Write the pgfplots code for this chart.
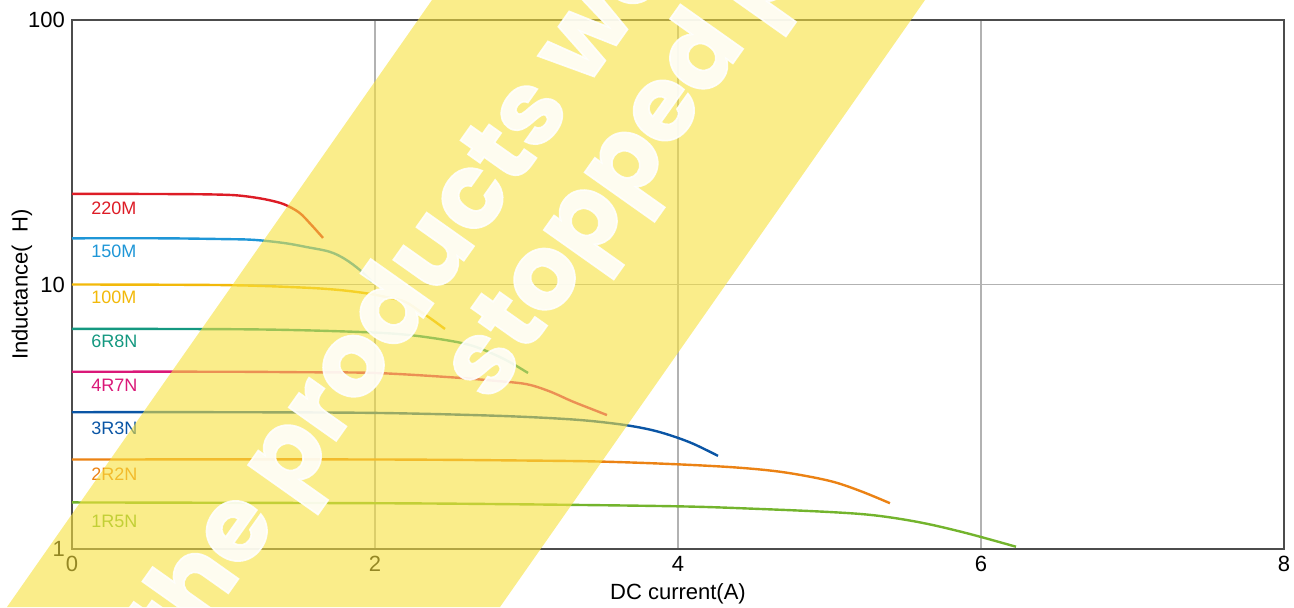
\documentclass[border=0pt]{standalone}
\usepackage{pgfplots}
\pgfplotsset{compat=1.18}
\usepackage{fontspec}
\setmainfont{Liberation Sans}
\newfontfamily\wmfont[BoldFeatures={FakeBold=1.6}]{Poppins}
\definecolor{c220}{RGB}{221,28,38}
\definecolor{c150}{RGB}{30,150,215}
\definecolor{c100}{RGB}{242,185,10}
\definecolor{c6R8}{RGB}{20,152,128}
\definecolor{c4R7}{RGB}{218,24,120}
\definecolor{c3R3}{RGB}{10,85,165}
\definecolor{c2R2}{RGB}{235,130,20}
\definecolor{c1R5}{RGB}{115,180,45}
\definecolor{band}{RGB}{247,225,60}
\begin{document}
\begin{tikzpicture}
\begin{axis}[
  at={(0,0)}, anchor=south west, scale only axis,
  width=606pt, height=264.5pt,
  xmin=0, xmax=8, ymin=1, ymax=100, ymode=log,
  xtick={0,2,4,6,8}, ytick={1,10,100}, yticklabels={1,10,100},
  grid=major, major grid style={draw=black!30, line width=0.6pt},
  axis line style={draw=black!70, line width=0.7pt},
  major tick length=0pt, minor tick length=0pt,
  tick label style={font=\fontsize{11}{13}\selectfont},
  /pgf/number format/assume math mode=true,
  xlabel={DC current(A)}, ylabel={Inductance(\hspace{0.58em}H)},
  label style={font=\fontsize{11}{13}\selectfont},
  xlabel style={at={(axis description cs:0.5,-0.085)}, anchor=center},
  ylabel style={at={(axis description cs:-0.0413,0.5)}, anchor=center},
  every axis plot/.append style={line width=1.2pt, smooth, tension=0.55, no markers},
  clip=false,
]
\addplot[c220] coordinates {(0,22.0) (0.4,22.0) (0.8,21.95) (1.0,21.85) (1.1,21.7) (1.2,21.35) (1.3,20.85) (1.4,20.1) (1.5,18.7) (1.58,16.8) (1.657,15.0)};
\addplot[c150] coordinates {(0,14.95) (0.6,14.95) (1.0,14.85) (1.2,14.75) (1.4,14.35) (1.55,13.85) (1.7,13.3) (1.8,12.5) (1.9,11.35) (1.98,10.22)};
\addplot[c100] coordinates {(0,10.0) (1.0,9.95) (1.5,9.75) (1.75,9.55) (1.95,9.25) (2.1,8.9) (2.2,8.6) (2.3,7.9) (2.38,7.35) (2.462,6.79)};
\addplot[c6R8] coordinates {(0,6.8) (1.0,6.78) (1.5,6.72) (2.0,6.58) (2.25,6.42) (2.5,6.12) (2.65,5.85) (2.8,5.4) (2.9,5.05) (3.01,4.63)};
\addplot[c4R7] coordinates {(0,4.68) (1.0,4.68) (1.5,4.66) (2.0,4.63) (2.5,4.46) (2.8,4.32) (3.0,4.2) (3.15,3.95) (3.3,3.62) (3.42,3.4) (3.531,3.21)};
\addplot[c3R3] coordinates {(0,3.29) (1.0,3.29) (2.0,3.27) (2.8,3.19) (3.3,3.09) (3.6,2.97) (3.8,2.84) (3.95,2.69) (4.1,2.5) (4.264,2.25)};
\addplot[c2R2] coordinates {(0,2.18) (2.0,2.18) (3.0,2.16) (3.5,2.14) (4.0,2.09) (4.4,2.03) (4.7,1.95) (5.0,1.81) (5.2,1.66) (5.399,1.49)};
\addplot[c1R5] coordinates {(0,1.50) (2.0,1.49) (3.0,1.475) (4.0,1.45) (4.5,1.42) (5.0,1.38) (5.3,1.34) (5.6,1.26) (5.9,1.15) (6.231,1.02)};
\begin{scope}[every node/.style={anchor=west, inner sep=0pt, font=\fontsize{9}{10}\selectfont}]
\node[text=c220] at (axis cs:0.125,19.46) {220M};
\node[text=c150] at (axis cs:0.125,13.39) {150M};
\node[text=c100] at (axis cs:0.125,8.97) {100M};
\node[text=c6R8] at (axis cs:0.125,6.11) {6R8N};
\node[text=c4R7] at (axis cs:0.125,4.17) {4R7N};
\node[text=c3R3] at (axis cs:0.125,2.87) {3R3N};
\node[text=c2R2] at (axis cs:0.125,1.92) {2R2N};
\node[text=c1R5] at (axis cs:0.125,1.276) {1R5N};
\end{scope}
\end{axis}
\begin{scope}
\clip (-36pt,-29pt) rectangle (611pt,274.5pt);
\fill[band, opacity=0.6] (180pt,274.5pt) -- (426.5pt,274.5pt) -- (214pt,-29pt) -- (-32.5pt,-29pt) -- cycle;
\begin{scope}[every node/.style={anchor=base west, inner sep=0pt, rotate=54.7, text=white, text opacity=0.88, font=\wmfont\bfseries\fontsize{52}{52}\selectfont}]
\node at (52.4pt,-58.5pt) {the products were};
\node at (209.5pt,72pt) {stopped production};
\end{scope}
\end{scope}
\pgfresetboundingbox
\path[use as bounding box] (-36pt,-29pt) rectangle (611pt,274.5pt);
\end{tikzpicture}
\end{document}
